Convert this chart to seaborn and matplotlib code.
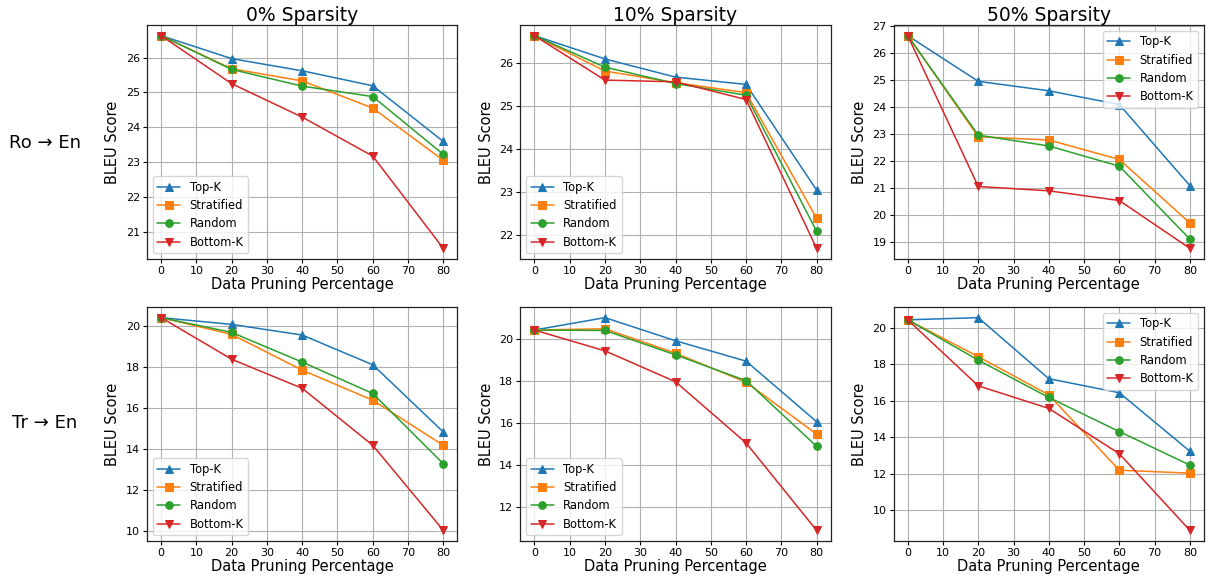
import matplotlib
matplotlib.use('Agg')
import matplotlib.pyplot as plt
import matplotlib.ticker as mticker
import pandas as pd
import seaborn as sns


pruning = [0, 20, 40, 60, 80]
methods = ['Top-K', 'Stratified', 'Random', 'Bottom-K']
sparsities = ['0% Sparsity', '10% Sparsity', '50% Sparsity']
pairs = ['Ro \u2192 En', 'Tr \u2192 En']

# Ro -> En
ro_0 = {
    'Top-K': [26.63, 25.97, 25.62, 25.19, 23.59],
    'Stratified': [26.63, 25.68, 25.33, 24.55, 23.05],
    'Random': [26.63, 25.66, 25.18, 24.88, 23.22],
    'Bottom-K': [26.63, 25.25, 24.29, 23.17, 20.52],
}
ro_10 = {
    'Top-K': [26.63, 26.09, 25.67, 25.50, 23.05],
    'Stratified': [26.63, 25.81, 25.54, 25.31, 22.40],
    'Random': [26.63, 25.90, 25.52, 25.25, 22.10],
    'Bottom-K': [26.63, 25.60, 25.56, 25.15, 21.70],
}
ro_50 = {
    'Top-K': [26.63, 24.94, 24.59, 24.08, 21.08],
    'Stratified': [26.63, 22.89, 22.77, 22.05, 19.70],
    'Random': [26.63, 22.95, 22.55, 21.80, 19.10],
    'Bottom-K': [26.63, 21.05, 20.89, 20.53, 18.76],
}
# Tr -> En
tr_0 = {
    'Top-K': [20.43, 20.10, 19.58, 18.13, 14.85],
    'Stratified': [20.43, 19.61, 17.87, 16.40, 14.20],
    'Random': [20.43, 19.71, 18.26, 16.73, 13.30],
    'Bottom-K': [20.43, 18.40, 16.98, 14.20, 10.05],
}
tr_10 = {
    'Top-K': [20.43, 21.02, 19.92, 18.95, 16.07],
    'Stratified': [20.43, 20.49, 19.33, 17.95, 15.48],
    'Random': [20.43, 20.41, 19.25, 18.02, 14.90],
    'Bottom-K': [20.43, 19.44, 17.97, 15.06, 10.90],
}
tr_50 = {
    'Top-K': [20.43, 20.55, 17.20, 16.43, 13.22],
    'Stratified': [20.43, 18.41, 16.31, 12.18, 12.02],
    'Random': [20.43, 18.22, 16.17, 14.30, 12.46],
    'Bottom-K': [20.43, 16.81, 15.57, 13.08, 8.88],
}

panels = [[ro_0, ro_10, ro_50], [tr_0, tr_10, tr_50]]
y_step = [1, 2]
legend_loc = ['lower left', 'lower left', 'upper right']

sns.set_theme(style='ticks', rc={
    'text.color': 'black', 'axes.labelcolor': 'black',
    'xtick.color': 'black', 'ytick.color': 'black',
    'axes.edgecolor': 'black',
})
plt.rcParams['font.family'] = ['DejaVu Sans']

PAL = sns.color_palette('tab10')[:4]
MARKERS = {'Top-K': '^', 'Stratified': 's', 'Random': 'o', 'Bottom-K': 'v'}

fig, axes = plt.subplots(2, 3, figsize=(12.08, 5.79), dpi=100)
fig.subplots_adjust(left=0.1217, right=0.9967, top=0.9568, bottom=0.0656,
                    wspace=0.2026, hspace=0.205)

for r in range(2):
    for c in range(3):
        ax = axes[r, c]
        data = panels[r][c]
        df = pd.DataFrame([
            {'pruning': x, 'bleu': v, 'method': m}
            for m in methods for x, v in zip(pruning, data[m])
        ])
        sns.lineplot(data=df, x='pruning', y='bleu', hue='method',
                     style='method', hue_order=methods, style_order=methods,
                     palette=PAL, markers=MARKERS, dashes=False,
                     lw=1.1, markersize=5.5, ax=ax)
        for line in ax.lines:
            line.set_markeredgecolor(line.get_color())

        leg = ax.get_legend()
        handles = leg.legend_handles
        labels = [t.get_text() for t in leg.get_texts()]
        for h in handles:
            h.set_markeredgecolor(h.get_color())
        ax.legend(handles, labels, loc=legend_loc[c], fontsize=8.3,
                  frameon=True, fancybox=True, framealpha=0.8,
                  handlelength=2.0, borderpad=0.4, labelspacing=0.45)

        ax.xaxis.set_major_locator(mticker.MultipleLocator(10))
        ax.yaxis.set_major_locator(mticker.MultipleLocator(y_step[r]))
        ax.tick_params(labelsize=8, length=3, width=0.8, pad=2)
        ax.grid(True, color='#b0b0b0', lw=0.8)
        for sp in ax.spines.values():
            sp.set_visible(True)
            sp.set_color('#222222')
            sp.set_linewidth(0.9)
        ax.set_xlabel('Data Pruning Percentage', fontsize=10.5, labelpad=1)
        ax.set_ylabel('BLEU Score', fontsize=10.5, labelpad=4)
        if r == 0:
            ax.set_title(sparsities[c], fontsize=13.5, pad=3)

fig.text(45 / 1208, 1 - 143 / 579, pairs[0], fontsize=13,
         ha='center', va='center')
fig.text(45 / 1208, 1 - 423 / 579, pairs[1], fontsize=13,
         ha='center', va='center')

fig.savefig('out.png', dpi=100)
